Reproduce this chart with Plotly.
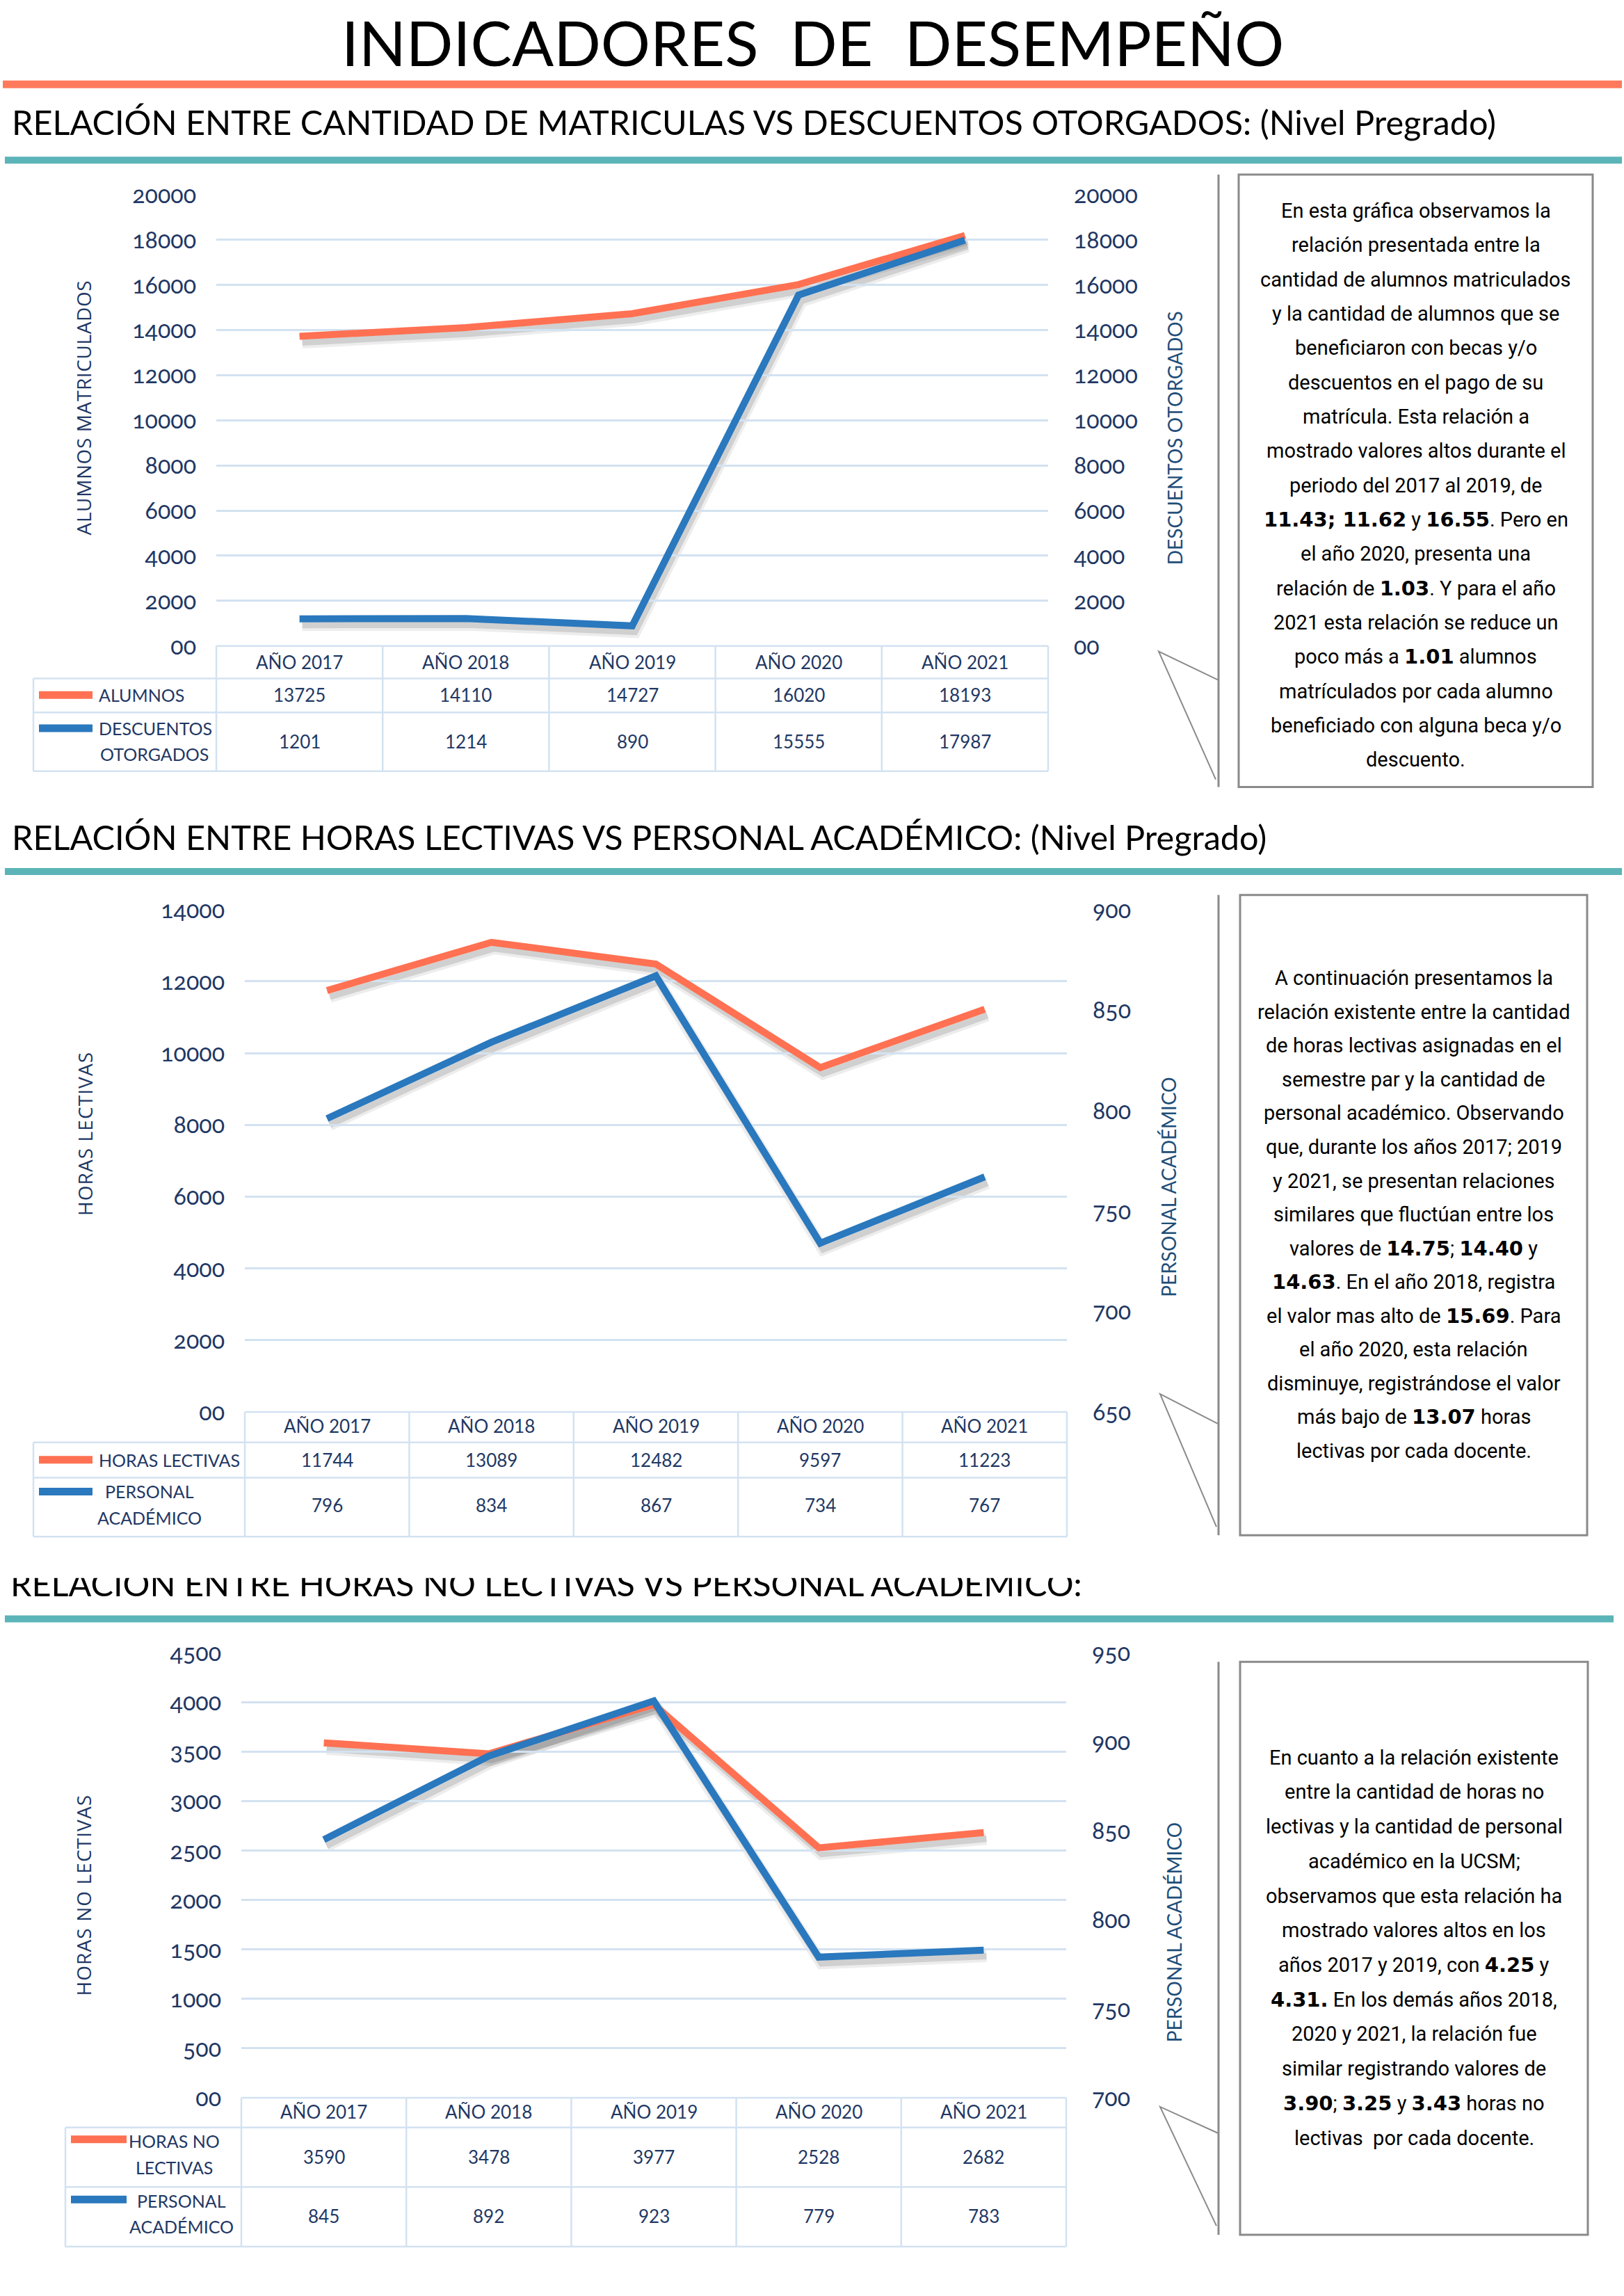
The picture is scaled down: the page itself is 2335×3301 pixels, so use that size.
import plotly.graph_objects as go

W, H = 2335, 3301

# ---------------- data ----------------
years = ["AÑO 2017", "AÑO 2018", "AÑO 2019", "AÑO 2020", "AÑO 2021"]
alumnos = [13725, 14110, 14727, 16020, 18193]
descuentos = [1201, 1214, 890, 15555, 17987]
horas_lectivas = [11744, 13089, 12482, 9597, 11223]
personal_lect = [796, 834, 867, 734, 767]
horas_no_lectivas = [3590, 3478, 3977, 2528, 2682]
personal_nolect = [845, 892, 923, 779, 783]

ticks1_left = list(range(0, 20001, 2000))
ticks1_right = list(range(0, 20001, 2000))
ticks2_left = list(range(0, 14001, 2000))
ticks2_right = list(range(650, 901, 50))
ticks3_left = list(range(0, 4501, 500))
ticks3_right = list(range(700, 951, 50))


def tick_text(vals):
    return ['<span style="font-variant-numeric:oldstyle-nums">' + ("00" if v == 0 else str(v)) + "</span>"
            for v in vals]


# ---------------- styles ----------------
ORANGE = "#FF7152"
BLUE = "#2A78BD"
TEAL = "#5BB4B8"
CORAL_BAR = "#FF7A5C"
GRID = "#D3E2F1"
NAVY = "#1F3864"
NAVY2 = "#1F4E79"
GREY = "#8A8A8A"
TICKFONT = dict(family="Lato", size=34, color=NAVY)
TABLEFONT = dict(family="Lato", size=26, color=NAVY)
LEGFONT = dict(family="Lato", size=25, color=NAVY)
BODYFONT = dict(family="Roboto", size=29, color="#000000")
SECFONT = dict(family="Lato", size=48.6, color="#000000")


def Y(y):
    # vertical calibration of the page
    return y - 18 + 23.3 * (y - 116) / 3130


def px(x):
    return x / W


def py(y):
    return 1 - Y(y) / H


def B(s):
    return '<span style="font-family:DejaVu Sans;font-weight:bold">' + s + "</span>"


def LS(s, sp):
    return '<span style="letter-spacing:' + str(sp) + 'px">' + s + "</span>"


fig = go.Figure()
shapes = []
annotations = []


def hline(x0, x1, y, color=GRID, width=2.5):
    shapes.append(dict(type="line", xref="paper", yref="paper", x0=px(x0), x1=px(x1),
                       y0=py(y), y1=py(y), line=dict(color=color, width=width), layer="below"))


def vline(x, y0, y1, color=GRID, width=2.5):
    shapes.append(dict(type="line", xref="paper", yref="paper", x0=px(x), x1=px(x),
                       y0=py(y0), y1=py(y1), line=dict(color=color, width=width), layer="below"))


def rect(x0, y0, x1, y1, fill=None, line=None):
    shapes.append(dict(type="rect", xref="paper", yref="paper", x0=px(x0), x1=px(x1),
                       y0=py(y1), y1=py(y0),
                       fillcolor=fill if fill else "rgba(0,0,0,0)",
                       line=line if line else dict(width=0), layer="below"))


def text(x, y, s, font, xanchor="center", yanchor="middle", angle=0, xref="paper"):
    annotations.append(dict(x=(px(x) if xref == "paper" else x), y=py(y), xref=xref, yref="paper",
                            text=s, showarrow=False, font=font, xanchor=xanchor,
                            yanchor=yanchor, textangle=angle))


# ---------------- header ----------------
text(1168, 57, "INDICADORES&nbsp;&nbsp;DE&nbsp;&nbsp;DESEMPEÑO",
     dict(family="Lato", size=89, color="#000000"))
rect(4, 113, 2332, 124, fill=CORAL_BAR)

text(15, 173, "RELACIÓN ENTRE CANTIDAD DE MATRICULAS VS DESCUENTOS OTORGADOS: (Nivel Pregrado)",
     SECFONT, xanchor="left")
rect(7, 223, 2332, 233, fill=TEAL)

text(15, 1206, "RELACIÓN ENTRE HORAS LECTIVAS VS PERSONAL ACADÉMICO: (Nivel Pregrado)",
     SECFONT, xanchor="left")
rect(7, 1251, 2332, 1261, fill=TEAL)

rect(7, 2331, 2320, 2341, fill=TEAL)

# ---------------- charts ----------------
charts = [
    dict(sx="x", sxl="xaxis", syl="yaxis", syr="yaxis2", sya="y", syb="y2",
         xa="x4", xl="xaxis4", yl="yaxis7", yr="yaxis8", ya="y7", yb="y8",
         x0=311, x1=1507, ytop=278, ybot=930,
         rows=[930, 977, 1026, 1111], legl=48,
         left=alumnos, right=descuentos,
         lt=ticks1_left, rt=ticks1_right,
         lrange=[0, 20000], rrange=[0, 20000],
         ltitle=LS("ALUMNOS&nbsp;MATRICULADOS", 0.6),
         rtitle="DESCUENTOS OTORGADOS",
         ltx=120, lty=586, rtx=1689, rty=630,
         head_y=953, r2_y=1001, r3_y=1068),
    dict(sx="x2", sxl="xaxis2", syl="yaxis3", syr="yaxis4", sya="y3", syb="y4",
         xa="x5", xl="xaxis5", yl="yaxis9", yr="yaxis10", ya="y9", yb="y10",
         x0=352, x1=1534, ytop=1311, ybot=2037,
         rows=[2037, 2081, 2132, 2217], legl=48,
         left=horas_lectivas, right=personal_lect,
         lt=ticks2_left, rt=ticks2_right,
         lrange=[0, 14000], rrange=[650, 900],
         ltitle=LS("HORAS LECTIVAS", 1.1), rtitle="PERSONAL ACADÉMICO",
         ltx=122, lty=1635, rtx=1680, rty=1712,
         head_y=2057, r2_y=2106, r3_y=2172),
    dict(sx="x3", sxl="xaxis3", syl="yaxis5", syr="yaxis6", sya="y5", syb="y6",
         xa="x6", xl="xaxis6", yl="yaxis11", yr="yaxis12", ya="y11", yb="y12",
         x0=347, x1=1533, ytop=2385, ybot=3028,
         rows=[3028, 3071, 3157, 3243], legl=94,
         left=horas_no_lectivas, right=personal_nolect,
         lt=ticks3_left, rt=ticks3_right,
         lrange=[0, 4500], rrange=[700, 950],
         ltitle=LS("HORAS NO LECTIVAS", 1.1), rtitle="PERSONAL ACADÉMICO",
         ltx=120, lty=2735, rtx=1688, rty=2789,
         head_y=3048, r2_y=3113, r3_y=3199),
]

SH_DX, SH_DY = 4, 9  # soft drop shadow under the lines

layout_axes = {}
for c in charts:
    # shadow subplot (drawn first, below)
    for yaxis_id, vals in ((c["sya"], c["left"]), (c["syb"], c["right"])):
        fig.add_trace(go.Scatter(x=years, y=vals, mode="lines",
                                 line=dict(color="rgba(0,0,0,0.07)", width=17),
                                 xaxis=c["sx"], yaxis=yaxis_id, hoverinfo="skip"))
        fig.add_trace(go.Scatter(x=years, y=vals, mode="lines",
                                 line=dict(color="rgba(0,0,0,0.12)", width=9),
                                 xaxis=c["sx"], yaxis=yaxis_id, hoverinfo="skip"))
    sdom = [py(c["ybot"] + SH_DY), py(c["ytop"] + SH_DY)]
    layout_axes[c["sxl"]] = dict(domain=[px(c["x0"] + SH_DX), px(c["x1"] + SH_DX)], anchor=c["sya"],
                                 type="category", categoryorder="array", categoryarray=years,
                                 range=[-0.5, 4.5], visible=False)
    layout_axes[c["syl"]] = dict(domain=sdom, anchor=c["sx"], range=c["lrange"], visible=False)
    layout_axes[c["syr"]] = dict(overlaying=c["sya"], anchor=c["sx"], side="right",
                                 range=c["rrange"], visible=False)

    # real lines
    fig.add_trace(go.Scatter(x=years, y=c["left"], mode="lines",
                             line=dict(color=ORANGE, width=10),
                             xaxis=c["xa"], yaxis=c["ya"], hoverinfo="skip"))
    fig.add_trace(go.Scatter(x=years, y=c["right"], mode="lines",
                             line=dict(color=BLUE, width=10),
                             xaxis=c["xa"], yaxis=c["yb"], hoverinfo="skip"))
    ydom = [py(c["ybot"]), py(c["ytop"])]
    layout_axes[c["xl"]] = dict(domain=[px(c["x0"]), px(c["x1"])], anchor=c["ya"],
                                type="category", categoryorder="array", categoryarray=years,
                                range=[-0.5, 4.5], showticklabels=False, showgrid=False,
                                zeroline=False, showline=False, ticks="")
    layout_axes[c["yl"]] = dict(domain=ydom, anchor=c["xa"], range=c["lrange"],
                                tickvals=c["lt"], ticktext=tick_text(c["lt"]),
                                tickfont=TICKFONT, showgrid=True, gridcolor=GRID, gridwidth=3,
                                zeroline=False, showline=False, ticks="",
                                ticklabelstandoff=28)
    layout_axes[c["yr"]] = dict(overlaying=c["ya"], side="right", anchor=c["xa"],
                                range=c["rrange"], tickvals=c["rt"], ticktext=tick_text(c["rt"]),
                                tickfont=TICKFONT, showgrid=False, zeroline=False,
                                showline=False, ticks="", ticklabelstandoff=36)

    # axis titles
    text(c["ltx"], c["lty"], c["ltitle"], dict(family="Open Sans", size=28, color=NAVY), angle=-90)
    text(c["rtx"], c["rty"], c["rtitle"], dict(family="Lato", size=28, color=NAVY2), angle=-90)

    # table grid
    r0, r1, r2, r3 = c["rows"]
    hline(c["x0"], c["x1"], r0)
    for yy in (r1, r2, r3):
        hline(c["legl"], c["x1"], yy)
    colw = (c["x1"] - c["x0"]) / len(years)
    for k in range(len(years) + 1):
        vline(c["x0"] + k * colw, r0, r3)
    vline(c["legl"], r1, r3)

    # table values
    for yr, lv, rv in zip(years, c["left"], c["right"]):
        text(yr, c["head_y"], yr, TABLEFONT, xref=c["xa"])
        text(yr, c["r2_y"], str(lv), TABLEFONT, xref=c["xa"])
        text(yr, c["r3_y"], str(rv), TABLEFONT, xref=c["xa"])


def swatch(x0, x1, y, color):
    shapes.append(dict(type="line", xref="paper", yref="paper", x0=px(x0), x1=px(x1),
                       y0=py(y), y1=py(y), line=dict(color=color, width=11)))


# legend cells
swatch(56, 133, 1001, ORANGE)
text(140, 1001, "ALUMNOS", LEGFONT, xanchor="left")
swatch(56, 133, 1049, BLUE)
text(140, 1049, "DESCUENTOS", LEGFONT, xanchor="left")
text(142, 1086, "OTORGADOS", LEGFONT, xanchor="left")

swatch(56, 133, 2106, ORANGE)
text(140, 2106, "HORAS LECTIVAS", LEGFONT, xanchor="left")
swatch(56, 133, 2152, BLUE)
text(215, 2152, "PERSONAL", LEGFONT)
text(215, 2190, "ACADÉMICO", LEGFONT)

swatch(102, 182, 3088, ORANGE)
text(250, 3090, "HORAS NO", LEGFONT)
text(250, 3128, "LECTIVAS", LEGFONT)
swatch(102, 182, 3175, BLUE)
text(261, 3177, "PERSONAL", LEGFONT)
text(261, 3214, "ACADÉMICO", LEGFONT)

# clipped third section title (its top is hidden, as in the reference)
fig.add_trace(go.Scatter(x=[15 / W], y=[0.74], mode="text",
                         text=["RELACIÓN ENTRE HORAS NO LECTIVAS VS PERSONAL ACADÉMICO:"],
                         textposition="middle right", textfont=SECFONT,
                         xaxis="x7", yaxis="y13", cliponaxis=True, hoverinfo="skip"))
layout_axes["xaxis7"] = dict(domain=[0, 1], range=[0, 1], visible=False, anchor="y13")
layout_axes["yaxis13"] = dict(domain=[py(2331), py(2277)], range=[0, 1], visible=False, anchor="x7")

# ---------------- comment boxes ----------------
box1 = ["En esta gráfica observamos la",
        "relación presentada entre la",
        "cantidad de alumnos matriculados",
        "y la cantidad de alumnos que se",
        "beneficiaron con becas y/o",
        "descuentos en el pago de su",
        "matrícula. Esta relación a",
        "mostrado valores altos durante el",
        "periodo del 2017 al 2019, de",
        B("11.43; 11.62") + " y " + B("16.55") + ". Pero en",
        "el año 2020, presenta una",
        "relación de " + B("1.03") + ". Y para el año",
        "2021 esta relación se reduce un",
        "poco más a " + B("1.01") + " alumnos",
        "matrículados por cada alumno",
        "beneficiado con alguna beca y/o",
        "descuento."]
box2 = ["A continuación presentamos la",
        "relación existente entre la cantidad",
        "de horas lectivas asignadas en el",
        "semestre par y la cantidad de",
        "personal académico. Observando",
        "que, durante los años 2017; 2019",
        "y 2021, se presentan relaciones",
        "similares que fluctúan entre los",
        "valores de " + B("14.75") + "; " + B("14.40") + " y",
        B("14.63") + ". En el año 2018, registra",
        "el valor mas alto de " + B("15.69") + ". Para",
        "el año 2020, esta relación",
        "disminuye, registrándose el valor",
        "más bajo de " + B("13.07") + " horas",
        "lectivas por cada docente."]
box3 = ["En cuanto a la relación existente",
        "entre la cantidad de horas no",
        "lectivas y la cantidad de personal",
        "académico en la UCSM;",
        "observamos que esta relación ha",
        "mostrado valores altos en los",
        "años 2017 y 2019, con " + B("4.25") + " y",
        B("4.31.") + " En los demás años 2018,",
        "2020 y 2021, la relación fue",
        "similar registrando valores de",
        B("3.90") + "; " + B("3.25") + " y " + B("3.43") + " horas no",
        "lectivas&nbsp;&nbsp;por cada docente."]

boxes = [
    dict(lines=box1, x0=1781, x1=2290, y0=249, y1=1134, first=301, step=49.6,
         tri=[(1751, 979), (1666, 938), (1748, 1123)]),
    dict(lines=box2, x0=1783, x1=2282, y0=1290, y1=2215, first=1410, step=48.8,
         tri=[(1751, 2054), (1668, 2011), (1749, 2203)]),
    dict(lines=box3, x0=1783, x1=2283, y0=2398, y1=3226, first=2536, step=50.0,
         tri=[(1751, 3079), (1668, 3041), (1749, 3213)]),
]
for b in boxes:
    shapes.append(dict(type="rect", xref="paper", yref="paper", x0=px(b["x0"]), x1=px(b["x1"]),
                       y0=py(b["y1"]), y1=py(b["y0"]), line=dict(color=GREY, width=3),
                       fillcolor="rgba(0,0,0,0)"))
    shapes.append(dict(type="line", xref="paper", yref="paper", x0=px(1752), x1=px(1752),
                       y0=py(b["y0"]), y1=py(b["y1"]), line=dict(color=GREY, width=3)))
    (ax, ay), (bx, by), (cx, cy) = b["tri"]
    path = "M {} {} L {} {} L {} {}".format(px(ax), py(ay), px(bx), py(by), px(cx), py(cy))
    shapes.append(dict(type="path", xref="paper", yref="paper", path=path,
                       line=dict(color=GREY, width=2)))
    cxm = (b["x0"] + b["x1"]) / 2
    for k, ln in enumerate(b["lines"]):
        text(cxm, b["first"] + k * b["step"], ln, BODYFONT)

fig.update_layout(
    width=W, height=H, margin=dict(l=0, r=0, t=0, b=0, pad=0),
    paper_bgcolor="white", plot_bgcolor="rgba(0,0,0,0)",
    showlegend=False, shapes=shapes, annotations=annotations,
    **layout_axes,
)

fig.write_html("out.html", config={"displayModeBar": False},
               post_script="document.body.style.margin='0';")
